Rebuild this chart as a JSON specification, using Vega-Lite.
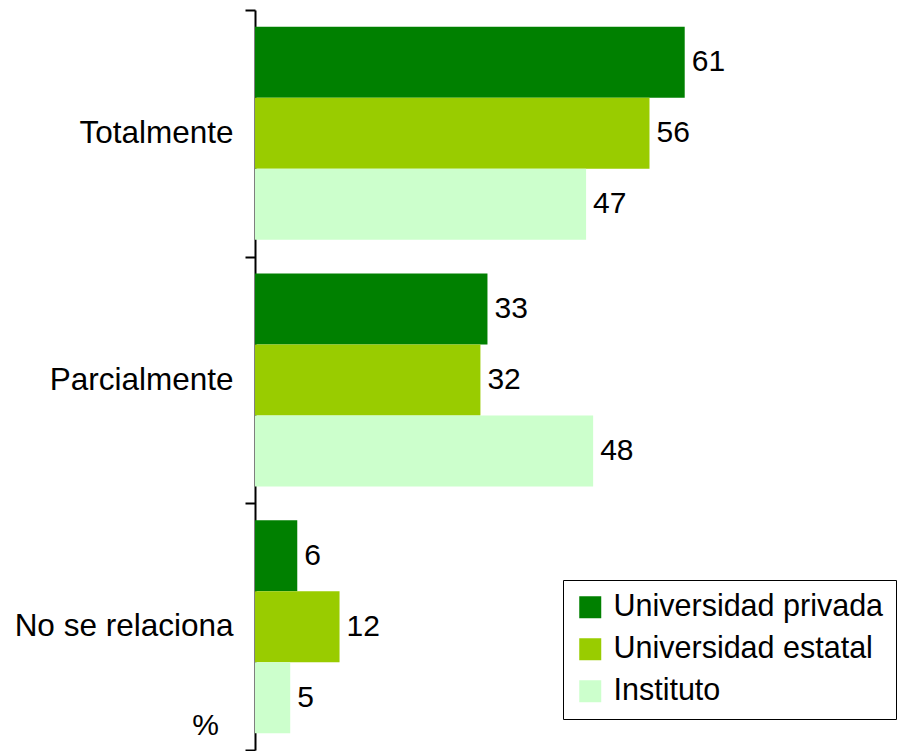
{
  "$schema": "https://vega.github.io/schema/vega-lite/v6.json",
  "width": 634,
  "height": 740,
  "autosize": {"type": "none"},
  "padding": {"left": 255, "top": 10, "right": 10, "bottom": 1},
  "background": "white",
  "config": {
    "view": {"stroke": null},
    "font": "Liberation Sans"
  },
  "data": {
    "values": [
      {"cat": "Totalmente", "serie": "Universidad privada", "value": 61},
      {"cat": "Totalmente", "serie": "Universidad estatal", "value": 56},
      {"cat": "Totalmente", "serie": "Instituto", "value": 47},
      {"cat": "Parcialmente", "serie": "Universidad privada", "value": 33},
      {"cat": "Parcialmente", "serie": "Universidad estatal", "value": 32},
      {"cat": "Parcialmente", "serie": "Instituto", "value": 48},
      {"cat": "No se relaciona", "serie": "Universidad privada", "value": 6},
      {"cat": "No se relaciona", "serie": "Universidad estatal", "value": 12},
      {"cat": "No se relaciona", "serie": "Instituto", "value": 5}
    ]
  },
  "encoding": {
    "y": {
      "field": "cat",
      "type": "nominal",
      "sort": ["Totalmente", "Parcialmente", "No se relaciona"],
      "scale": {"paddingInner": 0, "paddingOuter": 0},
      "axis": {
        "title": "%",
        "titleAngle": 0,
        "titleX": -50,
        "titleY": 715,
        "titleAlign": "center",
        "titleBaseline": "middle",
        "titleFontSize": 30,
        "titleFontWeight": "normal",
        "titleColor": "black",
        "tickBand": "extent",
        "tickSize": 10,
        "tickWidth": 2,
        "tickColor": "black",
        "domainColor": "black",
        "domainWidth": 2,
        "labelFontSize": 31.5,
        "labelColor": "black",
        "labelPadding": 12,
        "labelLimit": 300
      }
    },
    "yOffset": {
      "field": "serie",
      "type": "nominal",
      "sort": ["Universidad privada", "Universidad estatal", "Instituto"],
      "scale": {"paddingInner": 0, "paddingOuter": 0.237}
    },
    "x": {
      "field": "value",
      "type": "quantitative",
      "scale": {"domain": [0, 90], "nice": false},
      "axis": null
    }
  },
  "layer": [
    {
      "mark": {"type": "bar"},
      "encoding": {
        "color": {
          "field": "serie",
          "type": "nominal",
          "scale": {
            "domain": ["Universidad privada", "Universidad estatal", "Instituto"],
            "range": ["#008000", "#99CC00", "#CCFFCC"]
          },
          "legend": {
            "title": null,
            "orient": "none",
            "legendX": 308,
            "legendY": 570,
            "symbolType": "square",
            "symbolSize": 484,
            "symbolStrokeWidth": 0,
            "labelFontSize": 30.5,
            "labelColor": "black",
            "labelOffset": 8,
            "rowPadding": 11,
            "padding": 12,
            "strokeColor": "black",
            "fillColor": "white",
            "labelLimit": 400
          }
        }
      }
    },
    {
      "mark": {"type": "text", "align": "left", "baseline": "middle", "dx": 7, "fontSize": 30, "color": "black"},
      "encoding": {
        "text": {"field": "value", "type": "quantitative"}
      }
    }
  ]
}
